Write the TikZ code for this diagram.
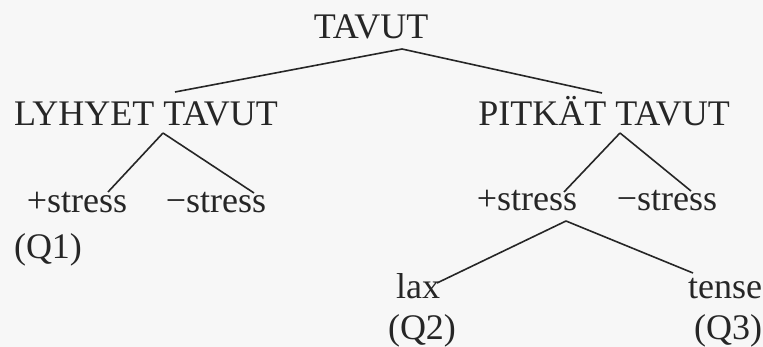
\documentclass[tikz,border=0pt]{standalone}
\usepackage{fontspec}
\setmainfont{Liberation Serif}
\usetikzlibrary{positioning}

\begin{document}
\begin{tikzpicture}[x=1pt,y=-1pt,line width=1.6pt,draw=black!85,
    word node/.style={anchor=base,inner sep=0pt,text=black!85,font=\fontsize{36}{43}\selectfont}]
            \fill[black!3] (0,0) rectangle (763,347);
            \useasboundingbox (0,0) rectangle (763,347);

            \node[word node] (root) at (371,39) {TAVUT};
            \node[word node] (short) at (146,126) {LYHYET TAVUT};
            \node[word node] (long) at (604,126) {PITKÄT TAVUT};
            \node[word node] (short plus) at (77,213) {+stress};
            \node[word node] (short minus) at (216,213) {−stress};
            \node[word node] (q1) at (48,259) {(Q1)};
            \node[word node] (long plus) at (527,211) {+stress};
            \node[word node] (long minus) at (667,211) {−stress};
            \node[word node] (lax) at (418,299) {lax};
            \node[word node] (tense) at (725,299) {tense};
            \node[word node] (q2) at (422,339) {(Q2)};
            \node[word node] (q3) at (728,339) {(Q3)};

            \coordinate (root v) at (402,49);
            \coordinate (short top) at (175,92);
            \coordinate (long top) at (602,93);
            \coordinate (short v) at (163,133);
            \coordinate (short plus top) at (108,192);
            \coordinate (short minus top) at (254,193);
            \coordinate (long v) at (620,133);
            \coordinate (long plus top) at (564,192);
            \coordinate (long minus top) at (691,191);
            \coordinate (long plus v) at (566,221);
            \coordinate (lax top) at (437,283);
            \coordinate (tense top) at (693,273);

          \path[draw=black!85]
            (root v) edge (short top)
            (root v) edge (long top)
            (short v) edge (short plus top)
            (short v) edge (short minus top)
            (long v) edge (long plus top)
            (long v) edge (long minus top)
            (long plus v) edge (lax top)
            (long plus v) edge (tense top)
            ;
\end{tikzpicture}
\end{document}
